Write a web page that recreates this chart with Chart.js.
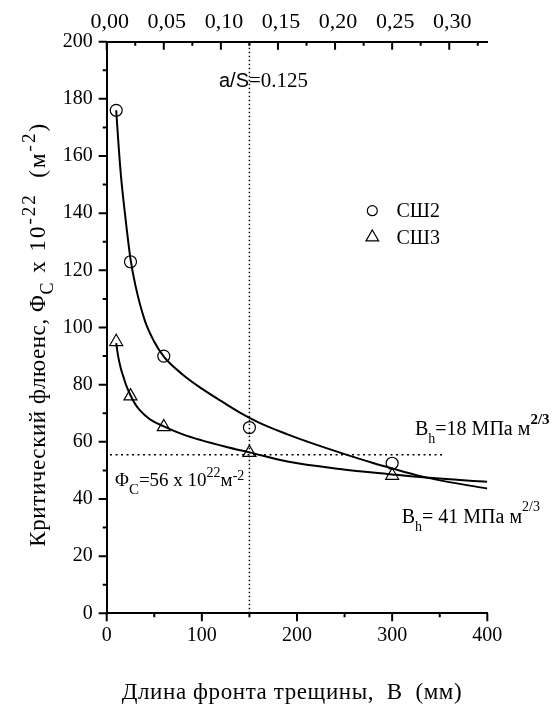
<!DOCTYPE html>
<html>
<head>
<meta charset="utf-8">
<script src="https://cdn.jsdelivr.net/npm/chart.js@4.4.1/dist/chart.umd.min.js"></script>
<style>
  html, body { margin: 0; padding: 0; background: #fff; }
  canvas { display: block; }
</style>
</head>
<body>
<canvas id="chart" width="556" height="707"></canvas>
<script>
// measured points
const ssh2B = [10, 25, 60, 150, 300]
const ssh2Phi = [176, 123, 90, 65, 52.5]
const ssh3B = [10, 25, 60, 150, 300]
const ssh3Phi = [95, 76, 65.2, 56.2, 48.2]

// fitted curves
const fit2B = [10, 12, 15, 20, 25, 30, 40, 50, 60, 80, 100, 120, 140, 160, 190, 220, 250, 280, 300, 330, 360, 400]
const fit2Phi = [176, 166, 153, 137.5, 124, 115, 102.5, 95, 89.8, 83.5, 78.6, 74.3, 70.2, 66.7, 62.6, 59.0, 55.7, 52.6, 50.7, 48.0, 45.9, 43.7]
const fit3B = [10, 12, 15, 17.5, 20, 25, 30, 35, 45, 60, 80, 100, 125, 150, 190, 245, 300, 335, 400]
const fit3Phi = [94.5, 90, 85.5, 82.8, 80.2, 76.3, 73.2, 71, 68, 65.4, 62.6, 60.5, 58.3, 56.3, 53.1, 50.5, 48.6, 47.5, 46.0]

// reference lines
const critB = [150, 150]
const critBPhi = [0, 200]
const critPhiB = [3.5, 356]
const critPhi = [55.5, 55.5]

// axes
const bottomTicks = [0, 100, 200, 300, 400]
const bottomMinor = [50, 150, 250, 350]
const leftTicks = [0, 20, 40, 60, 80, 100, 120, 140, 160, 180, 200]
const leftMinor = [10, 30, 50, 70, 90, 110, 130, 150, 170, 190]
const topTicks = [0, 0.05, 0.1, 0.15, 0.2, 0.25, 0.3]
const topTickLabels = ['0,00', '0,05', '0,10', '0,15', '0,20', '0,25', '0,30']
const topMinor = [0.025, 0.075, 0.125, 0.175, 0.225, 0.275, 0.325]
const sizeS = 1200 // a/S = B / S

const SERIF = "'Liberation Serif', 'Times New Roman', serif"
const SANS = "'Liberation Sans', Arial, sans-serif"

const pts = (xs, ys) => xs.map((x, i) => ({ x, y: ys[i] }))

function rich(ctx, x, y, parts) {
  let cx = x
  for (const [txt, font, dy] of parts) {
    ctx.font = font
    ctx.fillText(txt, cx, y + (dy || 0))
    cx += ctx.measureText(txt).width
  }
}

const axisExtras = {
  id: 'axisExtras',
  afterDraw(chart) {
    const { ctx } = chart
    const xs = chart.scales.x
    const x2 = chart.scales.x2
    const ys = chart.scales.y
    const area = chart.chartArea
    ctx.save()
    ctx.strokeStyle = '#000'
    ctx.lineWidth = 2
    ctx.beginPath()
    leftTicks.concat(leftMinor).forEach((v) => {
      const len = leftTicks.includes(v) ? 8 : 4
      const py = ys.getPixelForValue(v)
      ctx.moveTo(area.left, py)
      ctx.lineTo(area.left - len, py)
    })
    bottomTicks.concat(bottomMinor).forEach((v) => {
      const len = bottomTicks.includes(v) ? 8 : 4
      const px = xs.getPixelForValue(v)
      ctx.moveTo(px, area.bottom)
      ctx.lineTo(px, area.bottom + len)
    })
    topTicks.concat(topMinor).forEach((v) => {
      const len = topTicks.includes(v) ? 8 : 4
      const px = x2.getPixelForValue(v)
      ctx.moveTo(px, area.top)
      ctx.lineTo(px, area.top + len)
    })
    ctx.stroke()

    // texts
    ctx.fillStyle = '#000'
    ctx.textAlign = 'left'
    ctx.textBaseline = 'alphabetic'
    const f = (s, fam, w) => (w || '') + ' ' + s + 'px ' + (fam || SERIF)

    rich(ctx, 219, 87, [['a/S', f(20, SANS)], ['=0.125', f(21)]])

    // legend
    ctx.strokeStyle = '#000'
    ctx.fillStyle = 'rgba(0,0,0,0)'
    ctx.lineWidth = 1.2
    Chart.helpers.drawPoint(ctx, { pointStyle: 'circle', radius: 5, rotation: 0, borderWidth: 1.2 }, 372.3, 210.7)
    Chart.helpers.drawPoint(ctx, { pointStyle: 'triangle', radius: 7.3, rotation: 0, borderWidth: 1.2 }, 372.3, 237.3)
    ctx.fillStyle = '#000'
    rich(ctx, 396.5, 216.7, [['СШ2', f(20)]])
    rich(ctx, 396.5, 244, [['СШ3', f(20)]])

    rich(ctx, 115, 486, [
      ['Φ', f(19)], ['C', f(15), 8], ['=56 x 10', f(19)], ['22', f(14), -9],
      ['м', f(19)], ['-2', f(14), -6],
    ])
    rich(ctx, 415, 435, [
      ['B', f(20)], ['h', f(14), 8], ['=18 МПа м', f(20)], ['2/3', f(15, SERIF, 'bold'), -11],
    ])
    rich(ctx, 401.7, 523.3, [
      ['B', f(20)], ['h', f(14), 8], ['= 41 МПа м', f(20)], ['2/3', f(14), -12],
    ])

    ctx.letterSpacing = '0.6px'
    rich(ctx, 121.7, 698.5, [['Длина фронта трещины,  В  (мм)', f(23)]])

    ctx.save()
    ctx.translate(45, 546.7)
    ctx.rotate(-Math.PI / 2)
    rich(ctx, 0, 0, [['Критический флюенс, Φ', f(23)]])
    ctx.letterSpacing = '2px'
    const w0 = (ctx.font = f(23), ctx.letterSpacing = '0.6px', ctx.measureText('Критический флюенс, Φ').width)
    ctx.letterSpacing = '2px'
    rich(ctx, w0, 0, [
      ['C', f(18), 8], [' x 10', f(23)], ['-22', f(19), -10],
      ['  (м', f(23)], ['-2', f(19), -10], [')', f(23)],
    ])
    ctx.restore()
    ctx.letterSpacing = '0px'
    ctx.restore()
  },
}

const axisBase = {
  grid: { display: false, drawTicks: false },
  border: { display: true, color: '#000', width: 2 },
}

new Chart(document.getElementById('chart'), {
  type: 'scatter',
  data: {
    datasets: [
      {
        label: 'СШ2',
        data: pts(ssh2B, ssh2Phi),
        pointStyle: 'circle',
        pointRadius: 6,
        borderColor: '#000',
        backgroundColor: 'rgba(0,0,0,0)',
        borderWidth: 1.2,
      },
      {
        label: 'СШ3',
        data: pts(ssh3B, ssh3Phi),
        pointStyle: 'triangle',
        pointRadius: 7.5,
        borderColor: '#000',
        backgroundColor: 'rgba(0,0,0,0)',
        borderWidth: 1.2,
      },
      {
        label: 'fit СШ2',
        data: pts(fit2B, fit2Phi),
        showLine: true,
        cubicInterpolationMode: 'monotone',
        borderColor: '#000',
        borderWidth: 2,
        pointRadius: 0,
      },
      {
        label: 'fit СШ3',
        data: pts(fit3B, fit3Phi),
        showLine: true,
        cubicInterpolationMode: 'monotone',
        borderColor: '#000',
        borderWidth: 2,
        pointRadius: 0,
      },
      {
        label: 'a/S',
        data: pts(critB, critBPhi),
        showLine: true,
        borderColor: '#000',
        borderWidth: 1.5,
        borderDash: [1.5, 2.5],
        pointRadius: 0,
      },
      {
        label: 'Фc',
        data: pts(critPhiB, critPhi),
        showLine: true,
        borderColor: '#000',
        borderWidth: 1.5,
        borderDash: [2, 3.5],
        pointRadius: 0,
      },
    ],
  },
  options: {
    responsive: false,
    animation: false,
    devicePixelRatio: 1,
    layout: { padding: { left: 0, right: 68.7, top: 0, bottom: 0 } },
    plugins: {
      legend: { display: false },
      tooltip: { enabled: false },
    },
    scales: {
      x: {
        ...axisBase,
        type: 'linear',
        position: 'bottom',
        min: 0,
        max: 400,
        afterBuildTicks: (s) => { s.ticks = bottomTicks.map((value) => ({ value })) },
        afterFit: (s) => { s.height = 93.7 },
        ticks: {
          autoSkip: false,
          maxRotation: 0,
          padding: 10,
          color: '#000',
          font: { family: SERIF, size: 20 },
        },
      },
      x2: {
        ...axisBase,
        type: 'linear',
        position: 'top',
        min: 0,
        max: 400 / sizeS,
        afterBuildTicks: (s) => { s.ticks = topTicks.map((value) => ({ value })) },
        afterFit: (s) => { s.height = 41.7 },
        ticks: {
          autoSkip: false,
          maxRotation: 0,
          padding: 6,
          labelOffset: 3,
          color: '#000',
          font: { family: SERIF, size: 22 },
          callback: (v, i) => topTickLabels[i],
        },
      },
      y: {
        ...axisBase,
        type: 'linear',
        position: 'left',
        min: 0,
        max: 200,
        afterBuildTicks: (s) => { s.ticks = leftTicks.map((value) => ({ value })) },
        afterFit: (s) => { s.width = 106.7 },
        ticks: {
          autoSkip: false,
          padding: 14,
          color: '#000',
          font: { family: SERIF, size: 20 },
        },
      },
    },
  },
  plugins: [axisExtras],
})
</script>
</body>
</html>
